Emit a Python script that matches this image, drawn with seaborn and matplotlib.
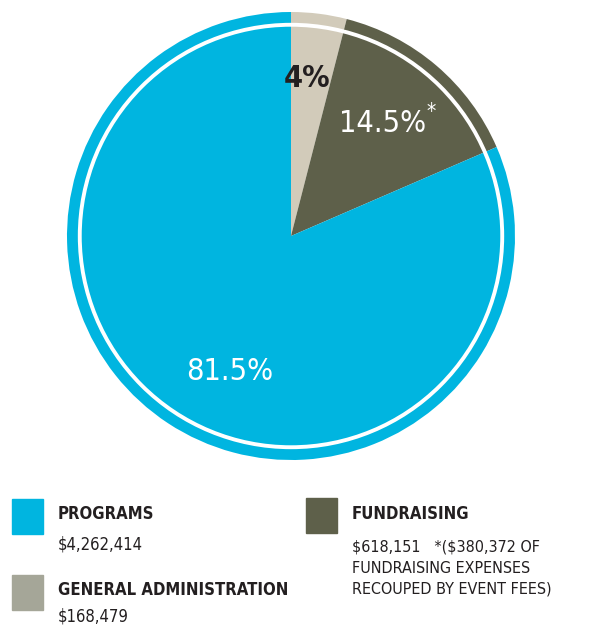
import matplotlib
matplotlib.use("Agg")
import matplotlib.pyplot as plt
import seaborn as sns

# data
categories = ["GENERAL ADMINISTRATION", "FUNDRAISING", "PROGRAMS"]
shares = [4, 14.5, 81.5]
pct_labels = ["4%", "14.5%", "81.5%"]
amounts = ["$168,479", "$618,151", "$4,262,414"]
pie_colors = ["#D2CBBA", "#5E604A", "#00B5E0"]
swatch_colors = ["#A5A698", "#5E604A", "#00B5E0"]
footnote = ["*($380,372 OF", "FUNDRAISING EXPENSES", "RECOUPED BY EVENT FEES)"]

sns.set_theme(style="white")
plt.rcParams['font.family'] = ['DejaVu Sans']
plt.rcParams['font.stretch'] = 'condensed'
plt.rcParams['text.parse_math'] = False
ink = "#231F20"

W, H = 602, 626
fig = plt.figure(figsize=(W / 100, H / 100), dpi=100)

def px(x, y):
    return x / W, 1 - y / H

# pie: centre (291, 236), radius 224 px
ax = fig.add_axes([67 / W, (H - 460) / H, 448 / W, 448 / H])
wedges, _ = ax.pie(shares, colors=pie_colors, startangle=90, counterclock=False,
                   radius=1, wedgeprops=dict(linewidth=0))
ax.add_patch(plt.Circle((0, 0), 0.943, fill=False, edgecolor="white", linewidth=2.8))
ax.set_xlim(-1, 1)
ax.set_ylim(-1, 1)
ax.set_aspect("equal")
ax.axis("off")

ax.text(0.071, 0.705, pct_labels[0], color=ink, fontsize=22, fontweight="semibold",
        ha="center", va="center")
ax.text(0.41, 0.50, pct_labels[1], color="white", fontsize=22,
        ha="center", va="center")
ax.text(0.625, 0.555, "*", color="white", fontsize=15, ha="center", va="center")
ax.text(-0.272, -0.607, pct_labels[2], color="white", fontsize=22,
        ha="center", va="center")

# legend
def swatch(x, y, c):
    fig.patches.append(plt.Rectangle(px(x, y + 35), 31 / W, 35 / H, color=c,
                                     transform=fig.transFigure, figure=fig))

fs = 11.5
swatch(12, 499, swatch_colors[2])
fig.text(*px(58, 519), categories[2], fontsize=fs + 0.5, fontweight="bold", color=ink)
fig.text(*px(58, 549), amounts[2], fontsize=fs + 0.5, color=ink)

swatch(12, 575, swatch_colors[0])
fig.text(*px(58, 595), categories[0], fontsize=fs + 0.5, fontweight="bold", color=ink)
fig.text(*px(58, 622), amounts[0], fontsize=fs + 0.5, color=ink)

swatch(306, 498, swatch_colors[1])
fig.text(*px(352, 519), categories[1], fontsize=fs + 0.5, fontweight="bold", color=ink)
fig.text(*px(352, 552), amounts[1] + "   " + footnote[0], fontsize=fs, color=ink)
fig.text(*px(352, 573), footnote[1], fontsize=fs, color=ink)
fig.text(*px(352, 594), footnote[2], fontsize=fs, color=ink)

fig.savefig("out.png", dpi=100, facecolor="white")
